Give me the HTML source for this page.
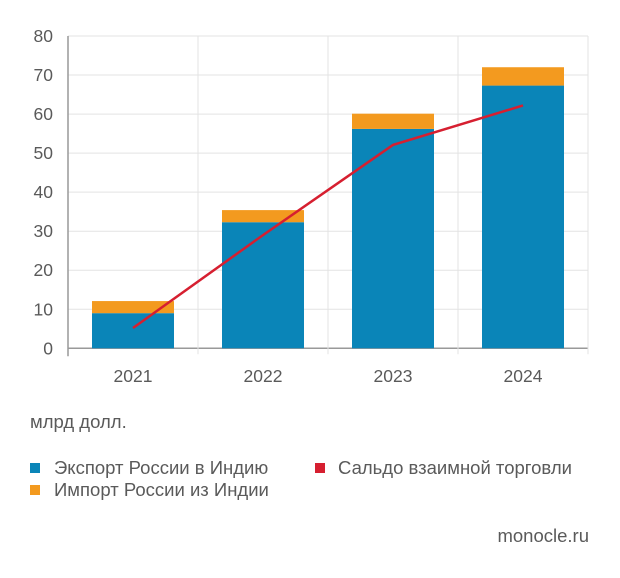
<!DOCTYPE html>
<html><head><meta charset="utf-8"><style>
body{margin:0;background:#fff;width:620px;height:573px;overflow:hidden;font-family:"Liberation Sans",sans-serif;}
svg text{font-family:"Liberation Sans",sans-serif;fill:#5a5a5a;}
</style></head><body>
<svg id="chart" width="620" height="573"></svg>
<script>
const categories=["2021","2022","2023","2024"];
const exportVals=[9.0,32.3,56.2,67.3];
const importVals=[3.1,3.1,3.9,4.7];
const balanceVals=[5.2,29,52.1,62.2];
const yTicks=[0,10,20,30,40,50,60,70,80];
const NS="http://www.w3.org/2000/svg";
const svg=document.getElementById('chart');
const x0=68,x1=588,yB=348.3,yT=36,yMax=80;
const bw=(x1-x0)/categories.length;
const y=v=>yB-(v/yMax)*(yB-yT);
const xc=i=>x0+bw*(i+0.5);
function mk(t,a){const e=document.createElementNS(NS,t);for(const k in a)e.setAttribute(k,a[k]);svg.appendChild(e);return e;}
yTicks.forEach(t=>{
  const l=mk('line',{x1:x0,x2:x1,y1:y(t),y2:y(t),stroke:t===0?'#999':'#e3e3e3','stroke-width':t===0?1.5:1});
  
  
  const tx=mk('text',{x:53,y:y(t)+6,'text-anchor':'end','font-size':17.5});
  tx.textContent=t;
  
  
});
for(let i=1;i<=categories.length;i++){
  const l=mk('line',{x1:x0+bw*i,x2:x0+bw*i,y1:yT,y2:yB+6,stroke:'#e3e3e3','stroke-width':1});
  
  
}
const ax=mk('line',{x1:x0,x2:x0,y1:yT,y2:yB+8,stroke:'#999','stroke-width':1.5});


categories.forEach((c,i)=>{
  const bx=xc(i)-41;
  const b=mk('rect',{x:bx,y:y(exportVals[i]),width:82,height:yB-y(exportVals[i]),fill:'#0a85b8'});
  
  
  const tot=exportVals[i]+importVals[i];
  const o=mk('rect',{x:bx,y:y(tot),width:82,height:y(exportVals[i])-y(tot),fill:'#f39a1f'});
  
  
  const t=mk('text',{x:xc(i),y:382,'text-anchor':'middle','font-size':17.5});
  t.textContent=c;
  
  
});
const pl=mk('polyline',{points:balanceVals.map((v,i)=>xc(i)+','+y(v)).join(' '),fill:'none',stroke:'#d61f30','stroke-width':2.5});


function txt(s,x,yy,name,anchor){const t=mk('text',{x:x,y:yy,'font-size':18.5,'text-anchor':anchor||'start'});t.textContent=s;return t;}
txt('млрд долл.',30,428,'unit-label');
const sq=(x,yy,c,n)=>{const r=mk('rect',{x:x,y:yy,width:10,height:10,fill:c});};
sq(30,463,'#0a85b8','legend-export-swatch');
txt('Экспорт России в Индию',54,474,'legend-export');
sq(315,463,'#d61f30','legend-balance-swatch');
txt('Сальдо взаимной торговли',338,474,'legend-balance');
sq(30,485,'#f39a1f','legend-import-swatch');
txt('Импорт России из Индии',54,496,'legend-import');
txt('monocle.ru',589,542,'source-label','end');
</script>
</body></html>
